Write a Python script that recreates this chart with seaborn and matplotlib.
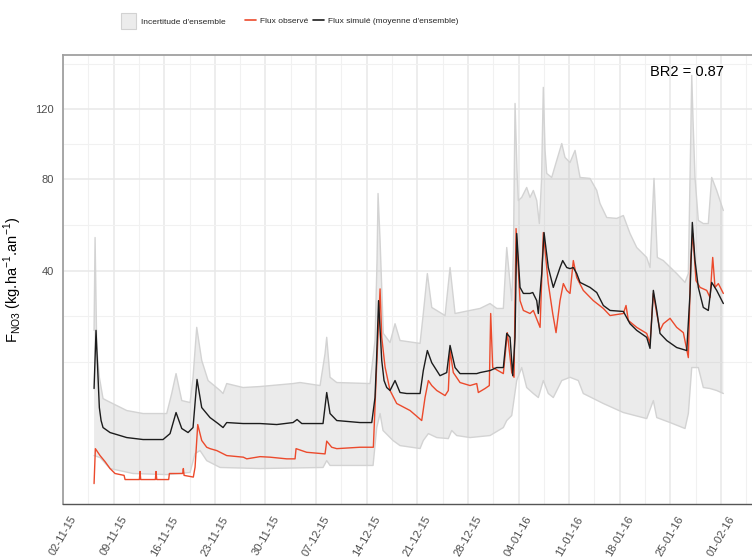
import numpy as np
import pandas as pd
import matplotlib
matplotlib.use("Agg")
import matplotlib.pyplot as plt
from matplotlib.patches import Patch
from matplotlib.lines import Line2D
from matplotlib.ticker import FixedLocator
import seaborn as sns

# ---------------------------------------------------------------------------
# Data: days counted from 2015-11-02, fluxes in kg.ha-1.an-1
# ---------------------------------------------------------------------------
START = pd.Timestamp("2015-11-02")

obs_day = [4.29, 4.47, 5.12, 5.81, 6.50, 7.19, 8.44, 8.58, 10.56, 10.65, 10.74, 12.77,
           12.86, 12.96, 14.61, 14.71, 16.55, 16.64, 16.74, 18.02, 18.26, 18.63, 19.18,
           19.87, 20.33, 21.26, 22.64, 24.94, 25.41, 27.25, 28.63, 30.94, 32.09, 32.23,
           33.70, 36.24, 36.47, 37.16, 37.86, 41.08, 42.92, 43.15, 43.29, 43.85, 44.08,
           44.54, 45.23, 46.15, 48.00, 49.61, 50.07, 50.53, 51.00, 51.69, 52.84, 53.29,
           53.53, 53.98, 54.91, 56.29, 57.22, 57.44, 58.37, 58.96, 59.15, 59.43, 60.90,
           61.45, 62.06, 62.38, 62.66, 63.21, 63.67, 64.59, 65.05, 65.98, 66.43, 67.12,
           67.73, 68.19, 68.74, 69.20, 69.67, 70.12, 70.58, 71.05, 71.96, 73.35, 74.73,
           75.66, 77.50, 77.87, 78.19, 79.35, 80.73, 81.19, 81.65, 82.12, 82.57, 83.03,
           83.96, 84.88, 85.80, 86.49, 86.82, 87.10, 87.55, 88.11, 89.03, 89.49, 89.86,
           90.18, 90.64, 91.33]
obs_val = [0.04, 1.45, 1.01, 0.69, 0.40, 0.24, 0.19, 0.10, 0.10, 0.30, 0.10, 0.10,
           0.30, 0.10, 0.10, 0.24, 0.24, 0.40, 0.19, 0.15, 0.45, 3.60, 2.07,
           1.55, 1.45, 1.32, 1.01, 0.92, 0.83, 0.95, 0.92, 0.83, 0.83, 1.45,
           1.21, 1.11, 2.02, 1.55, 1.45, 1.55, 1.55, 5.78, 10.0, 33.6, 19.4,
           12.6, 8.27, 6.26, 5.29, 4.05, 7.15, 10.0, 9.11, 8.27, 7.45, 8.27,
           16.2, 11.5, 9.64, 9.11, 9.46, 7.94, 8.60, 9.11, 25.9, 12.5, 11.3,
           20.6, 11.5, 10.6, 56.7, 29.8, 26.8, 25.9, 26.8, 22.0, 55.0, 35.4,
           25.9, 20.6, 29.8, 35.4, 33.1, 32.1, 43.7, 37.5, 33.1, 29.8, 27.4,
           25.3, 25.9, 28.3, 23.9, 22.0, 20.4, 17.9, 32.1, 25.9, 21.2, 23.0,
           24.5, 22.0, 20.6, 14.6, 43.7, 54.6, 36.4, 34.1, 33.1, 30.8, 44.9,
           34.1, 35.4, 32.1]

sim_day = [4.29, 4.56, 5.02, 5.26, 5.53, 6.50, 8.81, 11.07, 13.83, 14.80, 15.63, 16.42,
           17.29, 17.98, 18.53, 19.18, 20.33, 21.44, 22.13, 22.64, 24.90, 27.25, 29.56,
           31.81, 32.37, 33.02, 35.96, 36.47, 36.93, 37.86, 41.08, 42.70, 43.15, 43.36,
           43.64, 44.08, 44.40, 44.77, 45.23, 45.92, 46.61, 47.54, 49.38, 49.83, 50.39,
           51.00, 52.14, 53.07, 53.53, 54.22, 54.91, 57.22, 57.68, 59.06, 59.99, 60.90,
           61.37, 61.83, 62.20, 62.52, 62.75, 63.21, 63.67, 64.59, 64.97, 65.52, 65.74,
           66.21, 66.53, 67.12, 67.81, 68.74, 69.11, 69.67, 70.12, 70.58, 71.05, 71.51,
           72.89, 73.82, 74.73, 75.66, 77.50, 78.42, 79.35, 80.73, 81.19, 81.65, 82.12,
           82.57, 83.50, 84.88, 86.27, 86.72, 87.04, 87.41, 87.87, 88.56, 89.25, 89.72,
           90.41, 91.33]
sim_val = [8.60, 21.2, 5.69, 4.05, 3.28, 2.78, 2.32, 2.15, 2.15, 2.68, 5.03, 3.18,
           2.78, 3.28, 10.2, 5.69, 4.40, 3.71, 3.28, 3.82, 3.71, 3.71, 3.60,
           3.82, 4.17, 3.71, 3.71, 7.94, 4.90, 4.05, 3.82, 3.82, 7.15, 14.0,
           29.8, 14.0, 10.0, 8.77, 8.27, 10.0, 7.94, 7.78, 7.78, 11.9, 16.2,
           13.5, 10.9, 11.5, 17.4, 12.5, 11.3, 11.3, 11.5, 11.9, 12.5, 12.5,
           20.4, 19.4, 10.9, 19.4, 54.6, 34.1, 32.1, 32.1, 32.4, 29.8, 25.9,
           38.9, 55.0, 41.1, 34.1, 41.1, 43.7, 41.1, 40.7, 41.1, 38.9, 35.8,
           34.1, 32.4, 28.3, 26.8, 26.5, 23.0, 21.2, 19.4, 16.7, 33.1, 26.8,
           20.4, 18.6, 16.9, 16.2, 32.1, 59.4, 43.7, 34.1, 27.7, 26.8, 35.8,
           33.1, 28.9]

# ensemble envelope (upper and lower bounds)
up_day = [4.29, 4.43, 4.66, 5.02, 5.53, 6.04, 8.81, 11.07, 14.34, 15.03, 15.63, 16.42,
          17.57, 17.98, 18.49, 19.18, 20.06, 21.72, 22.13, 22.64, 24.90, 27.25, 31.81,
          32.78, 35.55, 36.24, 36.47, 36.93, 37.86, 42.46, 43.15, 43.43, 43.57, 43.85,
          44.30, 45.23, 45.92, 46.61, 49.38, 49.83, 50.39, 51.00, 52.84, 53.53, 54.22,
          56.29, 57.68, 59.06, 59.99, 60.90, 61.37, 62.06, 62.30, 62.52, 62.79, 62.97,
          63.44, 64.13, 64.59, 65.05, 65.52, 65.88, 66.18, 66.43, 66.67, 66.90, 67.59,
          68.28, 68.98, 69.43, 70.12, 70.82, 71.51, 72.89, 73.82, 74.27, 75.20, 76.58,
          77.50, 78.42, 79.35, 80.73, 81.19, 81.74, 82.20, 83.03, 84.88, 86.03, 86.49,
          86.79, 86.96, 87.14, 87.41, 87.87, 88.56, 89.25, 89.72, 90.41, 91.33]
up_val = [21.2, 52.9, 16.9, 10.6, 6.99, 6.69, 5.29, 4.90, 4.90, 7.78, 11.3, 6.69,
          6.40, 10.6, 22.0, 14.0, 10.0, 8.27, 7.78, 9.46, 8.77, 8.94, 9.46,
          9.64, 9.11, 15.5, 19.4, 10.6, 9.64, 9.46, 18.6, 43.7, 72.9, 51.7,
          20.4, 18.1, 23.0, 18.6, 17.9, 25.9, 38.9, 27.7, 25.3, 41.1, 25.9,
          26.8, 27.4, 28.9, 27.4, 27.4, 48.8, 29.8, 47.6, 123.8, 84.7, 69.5,
          71.0, 75.9, 71.0, 74.4, 69.5, 58.9, 79.4, 134.3, 95.6, 83.1, 81.0,
          90.0, 99.5, 91.7, 88.9, 95.6, 81.0, 80.5, 74.4, 68.1, 61.6, 61.2,
          62.5, 54.6, 48.8, 44.9, 41.1, 80.5, 44.9, 43.7, 38.9, 35.8, 38.9,
          95.6, 142.4, 113.2, 81.0, 60.3, 58.9, 58.9, 81.0, 74.4, 64.8]

lo_day = [4.29, 5.12, 6.50, 9.68, 14.38, 17.57, 18.26, 18.95, 19.87, 21.72, 27.25, 35.96,
          36.47, 36.93, 42.88, 43.39, 43.85, 44.26, 45.64, 46.61, 49.38, 49.83, 50.53,
          51.69, 53.29, 53.76, 54.45, 56.29, 59.06, 60.90, 61.37, 62.06, 62.75, 63.44,
          64.13, 65.05, 65.74, 66.43, 67.12, 67.81, 68.98, 70.12, 71.27, 71.96, 74.73,
          77.50, 80.73, 81.65, 82.12, 83.96, 86.03, 86.49, 86.96, 87.87, 88.56, 89.49,
          90.41, 91.33]
lo_val = [1.01, 0.90, 0.40, 0.24, 0.21, 0.27, 1.13, 1.32, 0.74, 0.44, 0.40, 0.44,
          0.74, 0.52, 0.52, 3.28, 4.90, 2.98, 2.07, 1.67, 1.46, 2.07, 2.68,
          2.32, 2.23, 2.98, 2.50, 2.32, 2.50, 3.28, 4.05, 4.65, 10.0, 12.5,
          8.77, 7.78, 7.15, 10.0, 7.78, 7.15, 10.0, 10.6, 10.0, 7.78, 6.26,
          5.03, 4.28, 6.69, 4.40, 3.82, 3.18, 4.90, 12.5, 12.5, 8.77, 8.60,
          8.27, 7.78]

y_breaks = [40, 80, 120]
series_labels = ["Flux observé", "Flux simulé (moyenne d'ensemble)"]
series_colors = ["#ec4a2c", "#1c1c1c"]
ribbon_label = "Incertitude d'ensemble"
score_label = "BR2 = 0.87"


def to_dates(days):
    return START + pd.to_timedelta(np.asarray(days, float), unit="D")


# signed square-root transform for the flux axis
def sqrt_fwd(v):
    v = np.asarray(v, float)
    return np.sign(v) * np.sqrt(np.abs(v))


def sqrt_inv(t):
    t = np.asarray(t, float)
    return np.sign(t) * t ** 2


# ---------------------------------------------------------------------------
sns.set_theme(style="white")
plt.rcParams["font.family"] = ["Liberation Sans", "DejaVu Sans"]
plt.rcParams["mathtext.fontset"] = "custom"
plt.rcParams["mathtext.rm"] = "Liberation Sans"

W, H = 752, 557
fig = plt.figure(figsize=(W / 100, H / 100), dpi=100)
ax = fig.add_axes([62.6 / W, 1 - 504 / H, (754.8 - 62.6) / W, (504 - 55) / H])
ax.set_yscale("function", functions=(sqrt_fwd, sqrt_inv))

long = pd.concat([
    pd.DataFrame({"date": to_dates(obs_day), "flux": obs_val, "serie": series_labels[0]}),
    pd.DataFrame({"date": to_dates(sim_day), "flux": sim_val, "serie": series_labels[1]}),
], ignore_index=True)

# ensemble envelope
xu = to_dates(up_day)
xl = to_dates(lo_day)
poly_x = np.concatenate([xu.values, xl.values[::-1]])
poly_y = np.concatenate([np.asarray(up_val), np.asarray(lo_val)[::-1]])
ax.fill(poly_x, poly_y, facecolor="#b0b0b0", alpha=0.25, edgecolor="none", zorder=2)
ax.plot(xu, up_val, color="#d3d3d3", lw=1.0, zorder=2.1)
ax.plot(xl, lo_val, color="#d3d3d3", lw=1.0, zorder=2.1)

sns.lineplot(data=long, x="date", y="flux", hue="serie", hue_order=series_labels,
             palette=dict(zip(series_labels, series_colors)), estimator=None,
             sort=False, linewidth=1.0, legend=False, ax=ax, zorder=3)

# limits with 5 % padding (in transformed space for y)
all_days = np.concatenate([obs_day, sim_day, up_day, lo_day])
d0, d1 = all_days.min(), all_days.max()
pad = 0.05 * (d1 - d0)
ax.set_xlim(to_dates([d0 - pad])[0], to_dates([d1 + pad])[0])

all_vals = np.concatenate([obs_val, sim_val, up_val, lo_val])
t0, t1 = sqrt_fwd(all_vals.min()), sqrt_fwd(all_vals.max())
tpad = 0.05 * (t1 - t0)
ax.set_ylim(sqrt_inv(t0 - tpad), sqrt_inv(t1 + tpad))

# y breaks and minor breaks (midpoints in square-root space)
tb = sqrt_fwd(y_breaks)
step = tb[1] - tb[0]
ext = np.concatenate([[tb[0] - step], tb, [tb[-1] + step]])
minor_t = np.concatenate([[ext[0]], (ext[:-1] + ext[1:]) / 2])
ax.yaxis.set_major_locator(FixedLocator(y_breaks))
ax.yaxis.set_minor_locator(FixedLocator(sqrt_inv(minor_t)))
ax.set_yticklabels([str(b) for b in y_breaks])

# weekly date breaks
week_breaks = pd.date_range(START, "2016-02-01", freq="7D")
minor_dates = week_breaks + pd.Timedelta(days=3.5)
ax.set_xticks(week_breaks)
ax.set_xticks(minor_dates, minor=True)
ax.set_xticklabels([d.strftime("%d-%m-%y") for d in week_breaks],
                   rotation=60, ha="center", va="top")

ax.grid(which="major", color="#e8e8e8", lw=1.1, zorder=0)
ax.grid(which="minor", color="#f1f1f1", lw=0.8, zorder=0)
ax.set_axisbelow(True)

ax.tick_params(which="major", length=3.5, width=1, color="#333333",
               labelcolor="#4d4d4d", labelsize=8)
ax.tick_params(axis="y", pad=3)
ax.tick_params(axis="x", pad=4)
ax.tick_params(which="minor", length=0)

for side in ("top", "left"):
    ax.spines[side].set_color("#a0a0a0")
    ax.spines[side].set_linewidth(1.3)
ax.spines["bottom"].set_color("#555555")
ax.spines["bottom"].set_linewidth(1.0)
ax.spines["right"].set_visible(False)

ax.set_xlabel("")
ax.set_ylabel(r"F$_{\mathregular{NO3}}$ (kg.ha$^{\mathregular{-1}}$.an$^{\mathregular{-1}}$)",
              fontsize=10.5, color="black", labelpad=8)

ax.text(0.902, 0.963, score_label, transform=ax.transAxes, ha="center", va="center",
        fontsize=10.5, color="black")

# legends above the panel (fill key, then colour keys)
leg_font = {"family": ["Liberation Sans"], "size": 6.0}
fig.legend(handles=[Patch(facecolor="#ececec", edgecolor="#d2d2d2", lw=0.8)],
           labels=[ribbon_label], loc="center left",
           bbox_to_anchor=(121 / W, 1 - 21 / H), frameon=False, prop=leg_font,
           handlelength=1.75, handleheight=2.5, handletextpad=0.65, borderpad=0,
           borderaxespad=0)
fig.legend(handles=[Line2D([], [], color=c, lw=1.2) for c in series_colors],
           labels=series_labels, loc="center left", ncol=2,
           bbox_to_anchor=(245 / W, 1 - 21 / H), frameon=False, prop=leg_font,
           handlelength=1.3, handletextpad=0.55, columnspacing=0.5, borderpad=0,
           borderaxespad=0)

fig.savefig("out.png", dpi=100)
